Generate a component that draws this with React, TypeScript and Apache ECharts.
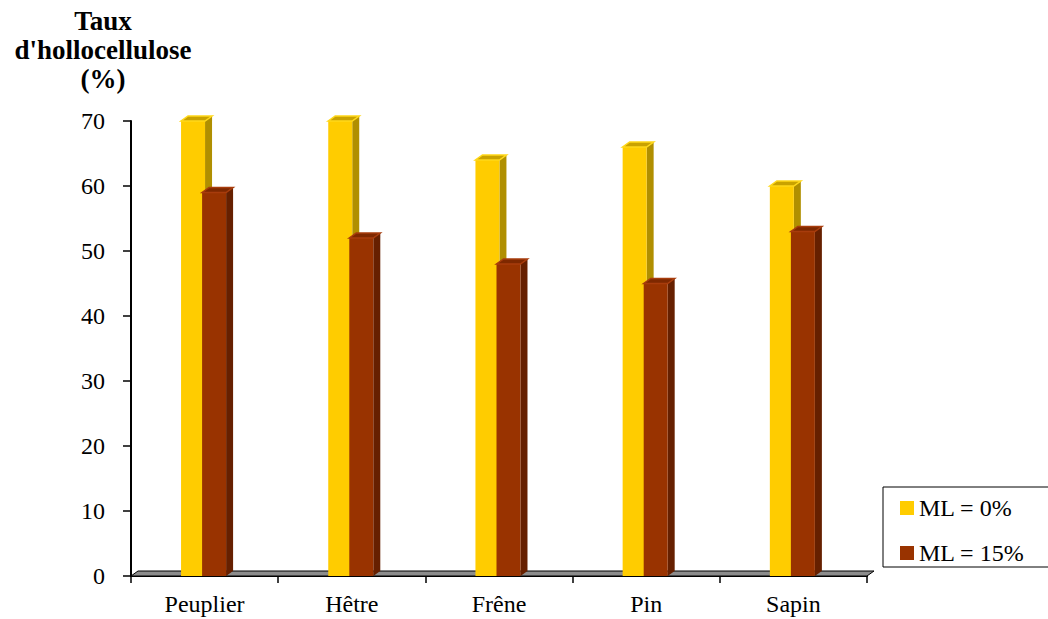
import React, { useEffect, useRef } from "react";
import * as echarts from "echarts";

const categories = ["Peuplier", "Hêtre", "Frêne", "Pin", "Sapin"];
const ml0Values = [70, 70, 64, 66, 60];
const ml15Values = [59, 52, 48, 45, 53];
const seriesNames = ["ML = 0%", "ML = 15%"];
const yTicks = { min: 0, max: 70, interval: 10 };
const yTitle = "Taux\nd'hollocellulose\n(%)";

const FONT = "Times New Roman";
const DX = 7;
const DY = -5;

type Palette = { front: string; side: string; top: string; topStroke: string };
const yellowPal: Palette = { front: "#FFCC00", side: "#B08F00", top: "#C9A200", topStroke: "#FFD81A" };
const redPal: Palette = { front: "#993300", side: "#662000", top: "#7E2800", topStroke: "#A83C0C" };

function makeBarRender(pal: Palette, leftFrac: number, widthFrac: number) {
  return (params: any, api: any) => {
    const idx = api.value(0);
    const val = api.value(1);
    const top = api.coord([idx, val]);
    const base = api.coord([idx, 0]);
    const bw = api.size([1, 0])[0];
    const x0 = top[0] + leftFrac * bw;
    const x1 = x0 + widthFrac * bw;
    const yT = top[1];
    const yB = base[1];
    return {
      type: "group",
      children: [
        {
          type: "polygon",
          shape: { points: [[x1, yT], [x1 + DX, yT + DY], [x1 + DX, yB + DY], [x1, yB]] },
          style: { fill: pal.side },
        },
        {
          type: "rect",
          shape: { x: x0, y: yT, width: x1 - x0, height: yB - yT },
          style: { fill: pal.front },
        },
        {
          type: "polygon",
          shape: { points: [[x0, yT], [x1, yT], [x1 + DX, yT + DY], [x0 + DX, yT + DY]] },
          style: { fill: pal.top, stroke: pal.topStroke, lineWidth: 1.5 },
        },
      ],
    };
  };
}

export default function App() {
  const ref = useRef<HTMLDivElement>(null);
  useEffect(() => {
    if (!ref.current) return;
    const chart = echarts.init(ref.current, undefined, { renderer: "svg" });
    const n = categories.length;
    chart.setOption({
      animation: false,
      backgroundColor: "#ffffff",
      grid: { left: 131, right: 181, top: 121, bottom: 43, containLabel: false },
      xAxis: {
        type: "category",
        data: categories,
        axisLine: { show: true, lineStyle: { color: "#000", width: 2 } },
        axisTick: { show: true, length: 7, lineStyle: { color: "#000", width: 1.5 } },
        axisLabel: { color: "#000", fontSize: 24, fontFamily: FONT, margin: 16 },
        splitLine: { show: false },
      },
      yAxis: {
        type: "value",
        min: yTicks.min,
        max: yTicks.max,
        interval: yTicks.interval,
        axisLine: { show: true, lineStyle: { color: "#000", width: 2 } },
        axisTick: { show: true, length: 8, lineStyle: { color: "#000", width: 1.5 } },
        axisLabel: { color: "#000", fontSize: 24, fontFamily: FONT, margin: 26 },
        splitLine: { show: false },
      },
      legend: {
        orient: "vertical",
        left: 883,
        top: 487,
        padding: [9, 24, 2, 17],
        itemGap: 21,
        itemWidth: 14,
        itemHeight: 14,
        icon: "rect",
        borderColor: "#000",
        borderWidth: 1,
        textStyle: { color: "#000", fontSize: 24, fontFamily: FONT, lineHeight: 24 },
        data: [
          { name: seriesNames[0], itemStyle: { color: yellowPal.front } },
          { name: seriesNames[1], itemStyle: { color: redPal.front } },
        ],
      },
      graphic: [
        {
          type: "text",
          x: 103,
          y: 6,
          style: {
            text: yTitle,
            fontSize: 27,
            fontWeight: "bold",
            fontFamily: FONT,
            lineHeight: 29,
            fill: "#000",
            align: "center",
            verticalAlign: "top",
          },
        },
      ],
      series: [
        {
          type: "custom",
          name: "floor",
          silent: true,
          z: 1,
          data: [[0, 0]],
          encode: { x: 0, y: 1 },
          renderItem: (params: any, api: any) => {
            const c0 = api.coord([0, 0]);
            const bw = api.size([1, 0])[0];
            const L = c0[0] - bw / 2;
            const R = L + n * bw;
            const y = c0[1];
            return {
              type: "polygon",
              shape: { points: [[L, y], [R, y], [R + DX, y + DY], [L + DX, y + DY]] },
              style: { fill: "#8C8C8C", stroke: "#000", lineWidth: 1 },
            };
          },
        },
        {
          type: "custom",
          name: seriesNames[0],
          z: 2,
          itemStyle: { color: yellowPal.front },
          data: ml0Values.map((v, i) => [i, v]),
          encode: { x: 0, y: 1 },
          renderItem: makeBarRender(yellowPal, -0.16, 0.163),
        },
        {
          type: "custom",
          name: seriesNames[1],
          z: 3,
          itemStyle: { color: redPal.front },
          data: ml15Values.map((v, i) => [i, v]),
          encode: { x: 0, y: 1 },
          renderItem: makeBarRender(redPal, -0.017, 0.163),
        },
      ],
    });
    return () => chart.dispose();
  }, []);
  return (
    <div
      ref={ref}
      style={{ position: "absolute", left: 0, top: 0, width: 1048, height: 619 }}
    />
  );
}
